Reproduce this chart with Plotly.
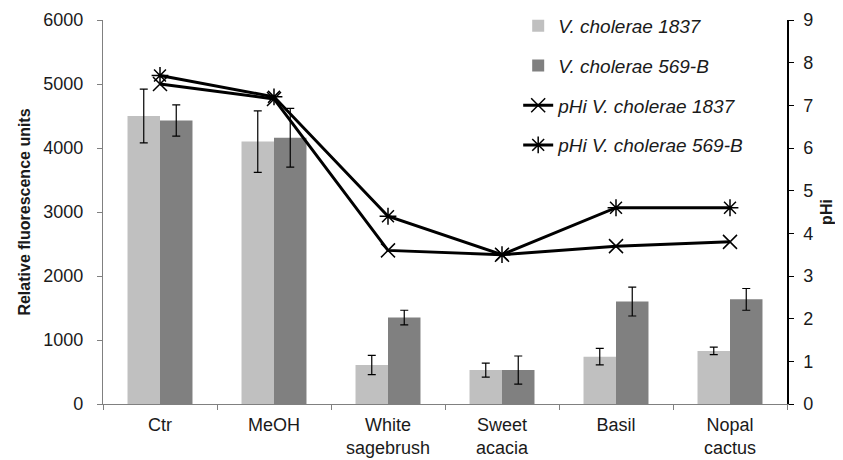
import plotly.graph_objects as go

categories = ["Ctr", "MeOH", "White<br>sagebrush", "Sweet<br>acacia", "Basil", "Nopal<br>cactus"]
rfu_1837 = [4500, 4100, 610, 530, 740, 830]
rfu_1837_err = [420, 480, 150, 110, 130, 60]
rfu_569b = [4430, 4160, 1350, 530, 1600, 1635]
rfu_569b_err = [245, 460, 115, 220, 225, 170]
phi_1837 = [7.5, 7.15, 3.6, 3.5, 3.7, 3.8]
phi_569b = [7.7, 7.2, 4.4, 3.5, 4.6, 4.6]

font_family = "Liberation Sans, Arial, sans-serif"

fig = go.Figure()
fig.add_trace(go.Bar(
    x=categories, y=rfu_1837, name="<i>V. cholerae 1837</i>",
    marker=dict(color="#c0c0c0", line=dict(width=0)),
    error_y=dict(type="data", array=rfu_1837_err, color="black", thickness=1.2, width=4),
    legendgroup="a",
))
fig.add_trace(go.Bar(
    x=categories, y=rfu_569b, name="<i>V. cholerae 569-B</i>",
    marker=dict(color="#808080", line=dict(width=0)),
    error_y=dict(type="data", array=rfu_569b_err, color="black", thickness=1.2, width=4),
    legendgroup="b",
))
fig.add_trace(go.Scatter(
    x=categories, y=phi_1837, name="<i>pHi V. cholerae 1837</i>", yaxis="y2",
    mode="lines+markers",
    line=dict(color="black", width=3),
    marker=dict(symbol="x-thin-open", size=14, color="black", line=dict(width=1.5, color="black")),
    legendgroup="c",
))
fig.add_trace(go.Scatter(
    x=categories, y=phi_569b, name="<i>pHi V. cholerae 569-B</i>", yaxis="y2",
    mode="lines+markers",
    line=dict(color="black", width=3),
    marker=dict(symbol="asterisk-open", size=14, color="black", line=dict(width=1.5, color="black")),
    legendgroup="d",
))

fig.update_layout(
    width=835, height=452,
    margin=dict(l=95, r=56, t=12, b=56, autoexpand=False),
    paper_bgcolor="white", plot_bgcolor="white",
    font=dict(family=font_family, size=18, color="#1a1a1a"),
    barmode="group", bargap=0.43, bargroupgap=0,
    showlegend=True,
    legend=dict(x=0.607, y=1.034, xanchor="left", yanchor="top",
                bgcolor="rgba(255,255,255,0)", tracegroupgap=12,
                font=dict(size=19, family=font_family), itemwidth=30),
    xaxis=dict(
        showline=True, linecolor="#808080", linewidth=1.2,
        ticks="outside", tickson="boundaries", ticklen=5, tickcolor="#808080",
        showgrid=False, tickfont=dict(size=18), ticklabelstandoff=4,
    ),
    yaxis=dict(
        range=[0, 6000], dtick=1000, showline=True, linecolor="#808080", linewidth=1.2,
        ticks="outside", ticklen=5, tickcolor="#808080", showgrid=False, zeroline=False,
        title=dict(text="<b>Relative fluorescence units</b>", standoff=8, font=dict(size=16)),
        tickfont=dict(size=18), ticklabelstandoff=10,
    ),
    yaxis2=dict(
        range=[0, 9], dtick=1, overlaying="y", side="right",
        showline=True, linecolor="black", linewidth=1.5,
        ticks="outside", ticklen=5, tickcolor="black", showgrid=False, zeroline=False,
        title=dict(text="<b>pHi</b>", standoff=8, font=dict(size=16)),
        tickfont=dict(size=18), ticklabelstandoff=6,
    ),
)

fig.write_html("out.html")
